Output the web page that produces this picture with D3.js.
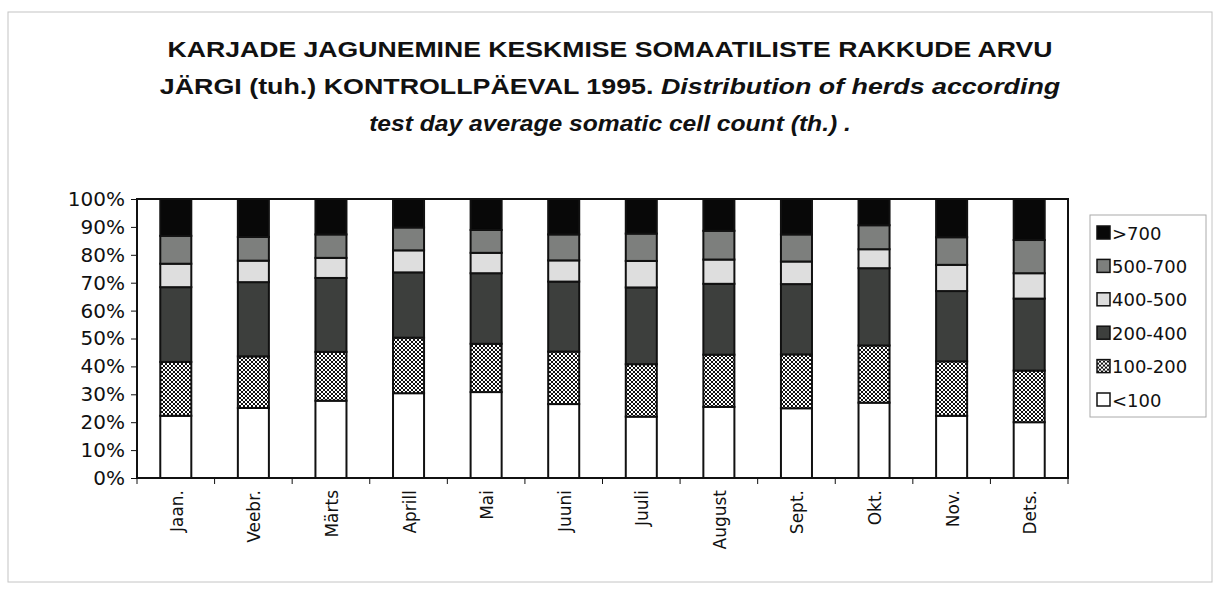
<!DOCTYPE html>
<html>
<head>
<meta charset="utf-8">
<script src="https://cdn.jsdelivr.net/npm/d3@7"></script>
<style>
  body { margin: 0; background: #fff; }
  svg { font-family: "DejaVu Sans", Arial, sans-serif; }
</style>
</head>
<body>
<svg id="chart"></svg>
<script>
// months on the x axis
const months = ["Jaan.", "Veebr.", "Märts", "Aprill", "Mai", "Juuni", "Juuli", "August", "Sept.", "Okt.", "Nov.", "Dets."];
// somatic cell count classes (bottom to top)
const classes = ["<100", "100-200", "200-400", "400-500", "500-700", ">700"];
// share of herds (%) per class, one value per month
const lt100   = [22.3, 25.1, 27.7, 30.4, 30.8, 26.5, 22.0, 25.5, 25.0, 27.0, 22.3, 20.0];
const c100200 = [19.3, 18.5, 17.5, 19.9, 17.3, 18.8, 18.8, 18.7, 19.3, 20.5, 19.5, 18.5];
const c200400 = [26.8, 26.6, 26.5, 23.4, 25.3, 25.1, 27.5, 25.4, 25.2, 27.7, 25.2, 25.8];
const c400500 = [8.4, 7.7, 7.2, 7.9, 7.3, 7.6, 9.5, 8.7, 8.1, 6.8, 9.4, 9.1];
const c500700 = [10.0, 8.5, 8.4, 8.2, 8.2, 9.3, 9.8, 10.3, 9.7, 8.6, 9.9, 11.9];
const gt700   = [13.2, 13.6, 12.7, 10.2, 11.1, 12.7, 12.4, 11.4, 12.7, 9.4, 13.7, 14.7];
const yTicks = [0, 10, 20, 30, 40, 50, 60, 70, 80, 90, 100];
const titleLines = [
  [{ t: "KARJADE JAGUNEMINE KESKMISE SOMAATILISTE RAKKUDE ARVU", i: false }],
  [{ t: "JÄRGI (tuh.) KONTROLLPÄEVAL 1995. ", i: false }, { t: "Distribution of herds according", i: true }],
  [{ t: "test day average somatic cell count (th.) .", i: true }]
];

const series = [lt100, c100200, c200400, c400500, c500700, gt700];
const table = months.map((m, i) => {
  let row = { month: m };
  classes.forEach((c, k) => (row[c] = series[k][i]));
  return row;
});

const W = 1220, H = 592;
const margin = { top: 199, right: 152, bottom: 114, left: 137 };
let svg = d3.select("#chart").attr("width", W).attr("height", H);

// thin frame around the whole chart
svg.append("rect").attr("x", 8).attr("y", 12).attr("width", W - 16).attr("height", H - 22)
  .attr("fill", "none").attr("stroke", "#c4c4c4").attr("stroke-width", 1);

let defs = svg.append("defs");
let pat = defs.append("pattern").attr("id", "checker").attr("patternUnits", "userSpaceOnUse")
  .attr("width", 4).attr("height", 4);
pat.append("rect").attr("width", 4).attr("height", 4).attr("fill", "#fff");
pat.append("rect").attr("width", 2).attr("height", 2).attr("fill", "#111");
pat.append("rect").attr("x", 2).attr("y", 2).attr("width", 2).attr("height", 2).attr("fill", "#111");

const fills = {
  "<100": "#fff",
  "100-200": "url(#checker)",
  "200-400": "#3d3f3d",
  "400-500": "#dedede",
  "500-700": "#7d7f7d",
  ">700": "#080808"
};

// title (scan is a bit stretched horizontally, so widen the lines)
const titleScale = [1.21, 1.22, 1.12];
titleLines.forEach((line, li) => {
  let t = svg.append("text")
    .attr("transform", "translate(610," + (57 + li * 37) + ") scale(" + titleScale[li] + ",1)")
    .attr("text-anchor", "middle")
    .attr("font-family", "Arial, 'Liberation Sans', sans-serif")
    .attr("font-weight", "bold")
    .attr("font-size", 22)
    .attr("fill", "#111");
  line.forEach((part) => {
    t.append("tspan").text(part.t).attr("font-style", part.i ? "italic" : "normal");
  });
});

let width = W - margin.left - margin.right,
  height = H - margin.top - margin.bottom,
  g = svg.append("g").attr("transform", "translate(" + margin.left + "," + margin.top + ")");

let x = d3.scaleBand().domain(months).range([0, width]).paddingInner(0.6).paddingOuter(0.3);
let y = d3.scaleLinear().domain([0, 100]).range([height, 0]);

// plot area outline
g.append("rect").attr("width", width).attr("height", height)
  .attr("fill", "#fff").attr("stroke", "#111").attr("stroke-width", 2);

let stack = d3.stack().keys(classes)(table);

g.selectAll("g.layer")
  .data(stack)
  .enter()
  .append("g")
  .attr("class", "layer")
  .attr("fill", (d) => fills[d.key])
  .selectAll("rect")
  .data((d) => d)
  .enter()
  .append("rect")
  .attr("x", (d) => x(d.data.month))
  .attr("y", (d) => y(d[1]))
  .attr("width", x.bandwidth())
  .attr("height", (d) => y(d[0]) - y(d[1]))
  .attr("stroke", "#111")
  .attr("stroke-width", 2);

// y axis
let yAxis = g.append("g").call(d3.axisLeft(y).tickValues(yTicks).tickSize(6).tickFormat((d) => d + "%"));
yAxis.select(".domain").remove();
yAxis.selectAll("line").attr("stroke", "#111");
yAxis.selectAll("text").attr("font-size", 20).attr("fill", "#111").attr("dx", "-3")
  .attr("font-family", "'DejaVu Sans', sans-serif");

// x axis: ticks between categories
let step = x.step();
let bounds = d3.range(months.length + 1).map((i) => x(months[0]) - step * x.paddingInner() / 2 + i * step);
g.append("g").selectAll("line").data(bounds).enter().append("line")
  .attr("x1", (d) => d).attr("x2", (d) => d)
  .attr("y1", height).attr("y2", height + 6).attr("stroke", "#111");

g.append("g").selectAll("text").data(months).enter().append("text")
  .attr("transform", (d) => "translate(" + (x(d) + x.bandwidth() / 2 + 7) + "," + (height + 12) + ") rotate(-90)")
  .attr("text-anchor", "end")
  .attr("font-size", 17)
  .attr("fill", "#111")
  .text((d) => d);

// legend
let lg = svg.append("g").attr("transform", "translate(1090,215)");
lg.append("rect").attr("width", 116).attr("height", 202).attr("fill", "#fff")
  .attr("stroke", "#aaa").attr("stroke-width", 1);
let items = lg.selectAll("g.item").data(classes.slice().reverse()).enter().append("g")
  .attr("class", "item")
  .attr("transform", (d, i) => "translate(7," + (18 + i * 33.4) + ")");
items.append("rect").attr("y", -7).attr("width", 13).attr("height", 13)
  .attr("fill", (d) => fills[d]).attr("stroke", "#111").attr("stroke-width", 1.5);
items.append("text").attr("x", 15).attr("y", 6.5).attr("font-size", 18).attr("fill", "#111").text((d) => d);
</script>
</body>
</html>
